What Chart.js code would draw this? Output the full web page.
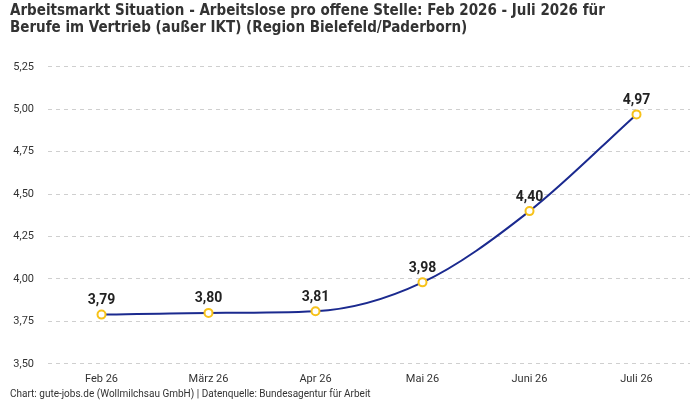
<!DOCTYPE html>
<html>
<head>
<meta charset="utf-8">
<script src="https://cdn.jsdelivr.net/npm/chart.js@4"></script>
<style>
  html, body { margin: 0; padding: 0; background: #fff; }
  #wrap { width: 700px; height: 400px; }
</style>
</head>
<body>
<div id="wrap"><canvas id="myChart"></canvas></div>
<script>
// Data
const months = ['Feb 26', 'März 26', 'Apr 26', 'Mai 26', 'Juni 26', 'Juli 26']
const ratio = [3.79, 3.80, 3.81, 3.98, 4.40, 4.97]
const yTicks = [3.50, 3.75, 4.00, 4.25, 4.50, 4.75, 5.00, 5.25]

const titleLines = [
    'Arbeitsmarkt Situation - Arbeitslose pro offene Stelle: Feb 2026 - Juli 2026 für',
    'Berufe im Vertrieb (außer IKT) (Region Bielefeld/Paderborn)'
]
const sourceText = 'Chart: gute-jobs.de (Wollmilchsau GmbH) | Datenquelle: Bundesagentur für Arbeit'

const fmt = v => v.toFixed(2).replace('.', ',')
const baseFont = 'Roboto, "Noto Sans", sans-serif'

// value labels above the points
const valueLabels = {
    id: 'valueLabels',
    afterDatasetsDraw(chart) {
        const ctx = chart.ctx
        const meta = chart.getDatasetMeta(0)
        ctx.save()
        ctx.font = 'bold 14px ' + baseFont
        ctx.fillStyle = '#222'
        ctx.textAlign = 'center'
        ctx.textBaseline = 'bottom'
        meta.data.forEach((pt, i) => {
            ctx.fillText(fmt(ratio[i]), pt.x, pt.y - 7)
        })
        ctx.restore()
    }
}

const ctx = document.getElementById('myChart').getContext('2d')

const chart = new Chart(ctx, {
    type: 'line',
    data: {
        labels: months,
        datasets: [{
            data: ratio,
            borderColor: '#1b2a8f',
            borderWidth: 2,
            cubicInterpolationMode: 'monotone',
            pointRadius: 4,
            pointBorderWidth: 2,
            pointBackgroundColor: '#fff',
            pointBorderColor: '#f7c21a',
            fill: false
        }]
    },
    options: {
        responsive: true,
        maintainAspectRatio: false,
        animation: false,
        layout: { padding: { left: 10, right: 10, top: 3, bottom: 0 } },
        plugins: {
            legend: { display: false },
            tooltip: { enabled: false },
            title: {
                display: true,
                text: titleLines,
                align: 'start',
                color: '#333',
                font: { family: '"DejaVu Sans Condensed", sans-serif', size: 15, weight: 'bold', lineHeight: 1.13 },
                padding: { top: 0, bottom: 30 }
            },
            subtitle: {
                display: true,
                text: sourceText,
                position: 'bottom',
                align: 'start',
                color: '#333',
                font: { family: baseFont, size: 10 },
                padding: { top: 1, bottom: 0 }
            }
        },
        scales: {
            x: {
                offset: true,
                grid: { display: false },
                border: { display: false },
                ticks: { color: '#333', font: { family: baseFont, size: 11 }, padding: 1 }
            },
            y: {
                min: yTicks[0],
                max: yTicks[yTicks.length - 1],
                afterBuildTicks: axis => { axis.ticks = yTicks.map(v => ({ value: v })) },
                afterFit: axis => { axis.width = 38 },
                grid: { color: '#cfcfcf', drawTicks: false },
                border: { display: false, dash: [4, 4] },
                ticks: {
                    color: '#333',
                    font: { family: baseFont, size: 11 },
                    padding: 14,
                    callback: v => fmt(v)
                }
            }
        }
    },
    plugins: [valueLabels]
})
</script>
</body>
</html>
